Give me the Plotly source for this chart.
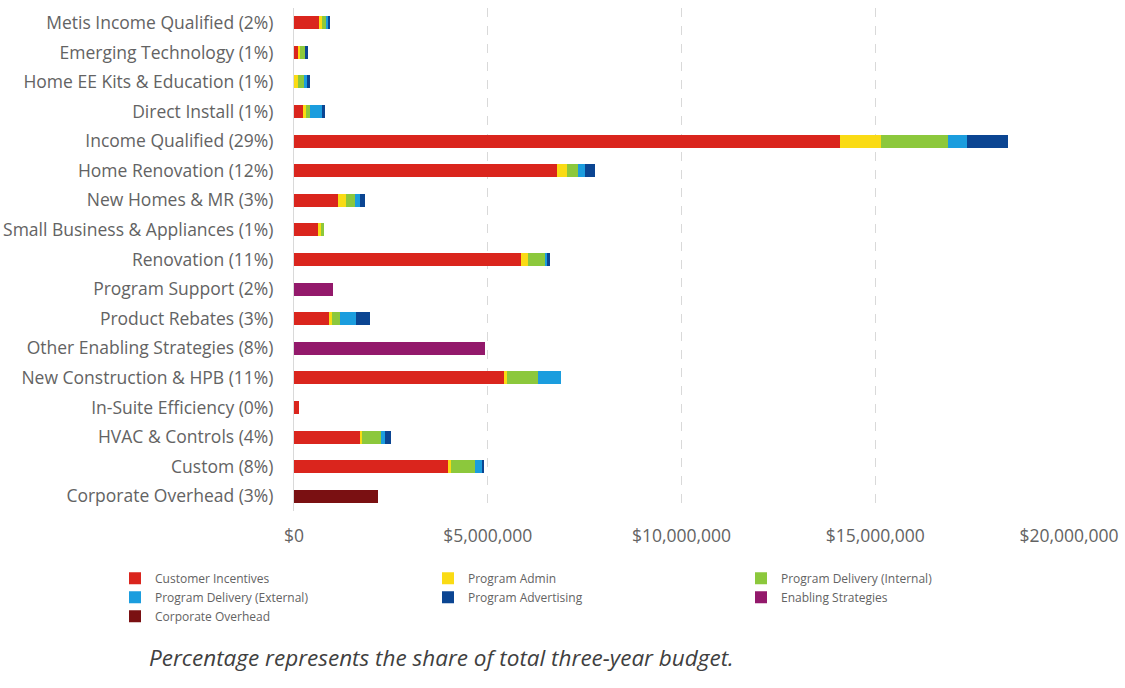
import plotly.graph_objects as go

# Programs, listed top to bottom as they appear on the chart
programs = [
    "Metis Income Qualified (2%)",
    "Emerging Technology (1%)",
    "Home EE Kits & Education (1%)",
    "Direct Install (1%)",
    "Income Qualified (29%)",
    "Home Renovation (12%)",
    "New Homes & MR (3%)",
    "Small Business & Appliances (1%)",
    "Renovation (11%)",
    "Program Support (2%)",
    "Product Rebates (3%)",
    "Other Enabling Strategies (8%)",
    "New Construction & HPB (11%)",
    "In-Suite Efficiency (0%)",
    "HVAC & Controls (4%)",
    "Custom (8%)",
    "Corporate Overhead (3%)",
]

# Three-year budget by cost category (dollars)
customer_incentives = [650000, 110000, 0, 240000, 14080000, 6780000, 1130000, 620000,
                       5870000, 0, 900000, 0, 5420000, 140000, 1700000, 3970000, 0]
program_admin = [80000, 40000, 100000, 60000, 1060000, 260000, 210000, 70000,
                 170000, 0, 90000, 0, 80000, 0, 55000, 80000, 0]
program_delivery_internal = [110000, 130000, 180000, 110000, 1740000, 280000, 230000, 80000,
                             430000, 0, 190000, 0, 800000, 0, 480000, 630000, 0]
program_delivery_external = [50000, 0, 50000, 300000, 500000, 180000, 130000, 0,
                             60000, 0, 410000, 0, 590000, 0, 115000, 180000, 0]
program_advertising = [50000, 90000, 80000, 80000, 1050000, 280000, 120000, 0,
                       70000, 0, 370000, 0, 0, 0, 150000, 40000, 0]
enabling_strategies = [0, 0, 0, 0, 0, 0, 0, 0,
                       0, 1010000, 0, 4920000, 0, 0, 0, 0, 0]
corporate_overhead = [0, 0, 0, 0, 0, 0, 0, 0,
                      0, 0, 0, 0, 0, 0, 0, 0, 2160000]

x_ticks = [0, 5000000, 10000000, 15000000, 20000000]
x_tick_labels = ["$0", "$5,000,000", "$10,000,000", "$15,000,000", "$20,000,000"]

series = [
    ("Customer Incentives", customer_incentives, "#DA251D"),
    ("Program Admin", program_admin, "#FADB14"),
    ("Program Delivery (Internal)", program_delivery_internal, "#8CC83C"),
    ("Program Delivery (External)", program_delivery_external, "#1B9DDE"),
    ("Program Advertising", program_advertising, "#0B4592"),
    ("Enabling Strategies", enabling_strategies, "#93196B"),
    ("Corporate Overhead", corporate_overhead, "#7A1012"),
]

fig = go.Figure()
for name, values, color in series:
    fig.add_trace(go.Bar(
        y=programs,
        x=values,
        name=name,
        orientation="h",
        marker=dict(color=color, line=dict(width=0)),
    ))

text_font = "'Open Sans', Lato, sans-serif"
plot_left, plot_width, plot_top, plot_bottom = 294, 775, 8, 511
plot_height = plot_bottom - plot_top

fig.update_layout(
    barmode="stack",
    bargap=0.56,
    width=1125,
    height=688,
    margin=dict(l=plot_left, r=1125 - plot_left - plot_width, t=plot_top, b=688 - plot_bottom,
                autoexpand=False),
    paper_bgcolor="white",
    plot_bgcolor="white",
    font=dict(family=text_font, size=16, color="#636363"),
    xaxis=dict(
        range=[0, 20000000],
        tickvals=x_ticks,
        ticktext=x_tick_labels,
        showgrid=True,
        gridcolor="#D9D9D9",
        griddash="dash",
        gridwidth=1,
        zeroline=False,
        showline=False,
        ticks="",
        ticklabelstandoff=12,
        tickfont=dict(size=17.5, color="#636363"),
        automargin=False,
        fixedrange=True,
    ),
    yaxis=dict(
        autorange="reversed",
        showline=True,
        linecolor="#D9D9D9",
        linewidth=1,
        ticks="",
        ticklabelstandoff=16,
        tickfont=dict(size=17.5, color="#636363"),
        automargin=False,
        fixedrange=True,
    ),
    legend=dict(
        orientation="h",
        traceorder="normal",
        x=(115 - plot_left) / plot_width,
        xref="paper",
        y=-0.105,
        yanchor="top",
        entrywidth=268,
        entrywidthmode="pixels",
        font=dict(size=12, color="#636363"),
        tracegroupgap=0,
        itemclick=False,
        itemdoubleclick=False,
    ),
    annotations=[
        dict(
            text="<i>Percentage represents the share of total three-year budget.</i>",
            xref="paper", yref="paper",
            x=(147 - plot_left) / plot_width, y=-(657 - plot_bottom) / plot_height,
            xanchor="left", yanchor="middle",
            showarrow=False,
            font=dict(family=text_font, size=22.5, color="#404040"),
        )
    ],
)

fig.write_html("out.html")
